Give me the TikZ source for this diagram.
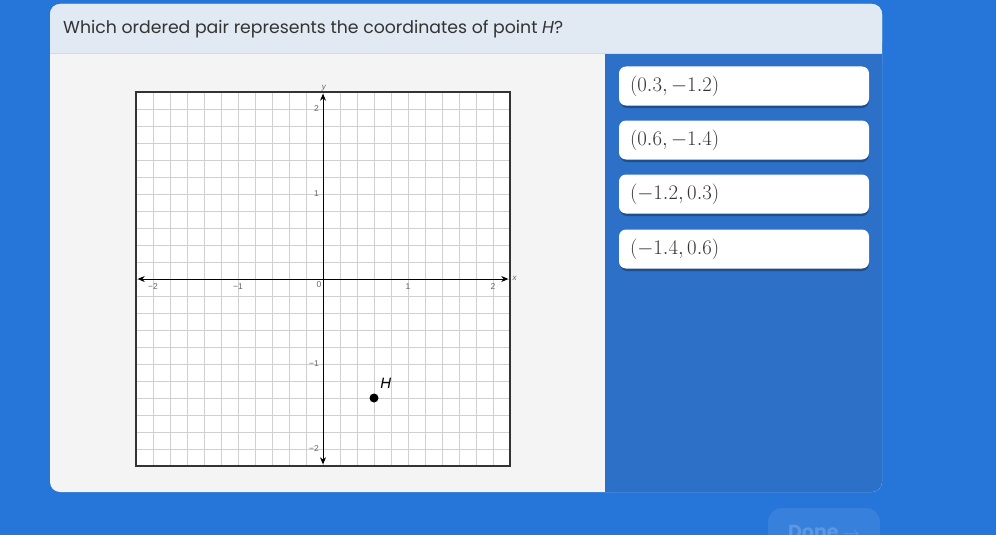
\documentclass[tikz,border=0pt]{standalone}
\usepackage{fontspec}
\usepackage{amsmath}
\setmainfont{Poppins}
\newfontfamily\arialfont{Liberation Sans}
\usetikzlibrary{arrows.meta}
\definecolor{bgblue}{RGB}{38,117,216}
\definecolor{panelblue}{RGB}{44,112,200}
\definecolor{headgray}{RGB}{225,233,243}
\definecolor{leftgray}{RGB}{244,244,244}
\definecolor{inkgray}{RGB}{51,51,51}
\definecolor{gridgray}{RGB}{208,208,208}

\begin{document}
\begin{tikzpicture}[
  x=1pt, y=-1pt,
  choice/.style={%
    draw=none, fill=white, rounded corners=7pt,
    minimum width=250pt, minimum height=39pt,
    inner xsep=11pt, text width=228pt, align=left,
    font=\fontsize{19.5}{22}\selectfont, text=inkgray,
  },
  shade box/.style={fill=black!30!panelblue, rounded corners=7pt},
  gridline/.style={gridgray, line width=0.6pt},
  axis/.style={black, line width=0.9pt, {Stealth[length=7pt,width=6pt]}-{Stealth[length=7pt,width=6pt]}},
  ticklabel/.style={font=\arialfont\fontsize{8.5}{9}\selectfont, text=black!60, inner sep=1.5pt},
]
  \clip (0,0) rectangle (996,535);
  \fill[bgblue] (0,0) rectangle (996,535);

  % card
  \fill[leftgray, rounded corners=10pt] (50,4) rectangle (882,492);
  \fill[panelblue, rounded corners=10pt] (605,53) rectangle (882,492);
  \fill[panelblue] (605,53) rectangle (870,492);
  \fill[panelblue] (605,53) rectangle (882,480);
  \fill[headgray, rounded corners=10pt] (50,4) rectangle (882,53);
  \fill[headgray] (50,30) rectangle (882,53);
  \draw[black!15, line width=0.8pt] (50,53) -- (882,53);
  \node[anchor=west, text=inkgray, font=\fontsize{17.3}{20}\selectfont, inner sep=0pt] (question)
    at (63,29) {Which ordered pair represents the coordinates of point \textit{H}?};

  % answers
  \foreach \y/\txt [count=\i] in {86/{(0.3,-1.2)}, 140/{(0.6,-1.4)}, 194/{(-1.2,0.3)}, 249/{(-1.4,0.6)}} {
    \fill[shade box] (620,\y-18) rectangle (869,\y+22);
    \node[choice] (choice\i) at (744,\y) {$\txt$};
  }

  % done button
  \node[fill=bgblue!92!white, rounded corners=14pt, minimum width=112pt, minimum height=48pt,
    text=bgblue!75!white, font=\fontsize{19}{22}\selectfont\bfseries] (done) at (824,532) {Done $\rightarrow$};

  % graph
  \begin{scope}[shift={(323pt,-279pt)}, x=85pt, y=85pt]
    \fill[white] (-2.2,-2.2) rectangle (2.2,2.2);
    \draw[gridline] (-2.2,-2.2) grid[step=0.2] (2.2,2.2);
    \draw[black!80, line width=1.1pt] (-2.2,-2.2) rectangle (2.2,2.2);
    \draw[axis] (-2.18,0) -- (2.18,0);
    \draw[axis] (0,-2.18) -- (0,2.18);
    \node[ticklabel, font=\arialfont\itshape\fontsize{8}{9}\selectfont, anchor=west] (xlab) at (2.21,0.01) {x};
    \node[ticklabel, font=\arialfont\itshape\fontsize{8}{9}\selectfont, anchor=south] (ylab) at (0.01,2.19) {y};
    \foreach \v/\t in {-2/−2,-1/−1,1/1,2/2} {
      \node[ticklabel, anchor=north] at (\v,-0.03) {\t};
      \node[ticklabel, anchor=east] at (-0.03,\v) {\t};
    }
    \node[ticklabel, anchor=north east] (orig) at (0,-0.01) {0};
    \fill (0.6,-1.4) circle (4.5pt) coordinate (H);
    \node[anchor=south west, inner sep=1pt, font=\arialfont\itshape\fontsize{15}{18}\selectfont] (Hlab) at (0.66,-1.3) {H};
  \end{scope}
\end{tikzpicture}
\end{document}
